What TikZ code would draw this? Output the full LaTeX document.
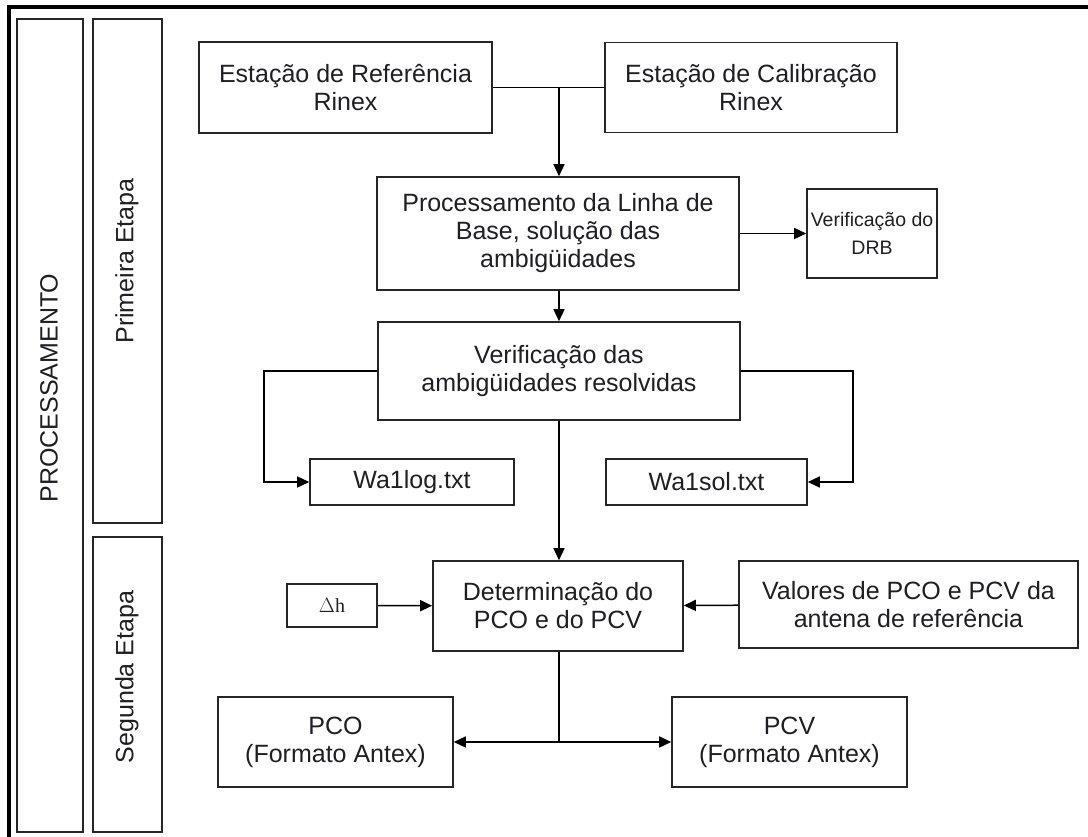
\documentclass[tikz,border=0pt]{standalone}
\usepackage{fontspec}
\setmainfont{Liberation Sans}
\newfontfamily\deltafont{Liberation Serif}
\usetikzlibrary{arrows.meta}
\pgfdeclarelayer{edgelayer}
\pgfdeclarelayer{nodelayer}
\pgfsetlayers{edgelayer,nodelayer,main}
\definecolor{boxgrey}{RGB}{38,38,38}
\definecolor{txtgrey}{RGB}{30,30,36}
\tikzstyle{none}=[inner sep=0pt]
\tikzstyle{stepbox}=[rectangle,draw=boxgrey,line width=1.6pt,align=center,inner sep=0pt,text=txtgrey,font=\fontsize{25}{28}\selectfont]
\tikzstyle{colbox}=[rectangle,draw=boxgrey,line width=1.6pt,inner sep=0pt]
\tikzstyle{sidelabel}=[rotate=90,inner sep=0pt,text=txtgrey,font=\fontsize{25}{28}\selectfont]
\tikzstyle{inarrow}=[-{Triangle[length=12pt,width=11pt]},line width=1.5pt]
\tikzstyle{link}=[-,line width=1.5pt]

\begin{document}
\begin{tikzpicture}[x=1pt,y=-1pt]
	\useasboundingbox (0,0) rectangle (1088,837);
	\draw [line width=4.3pt] (9,837) -- (9,7) -- (1088,7);
	\begin{pgfonlayer}{nodelayer}
		\node [style=colbox, minimum width=66pt, minimum height=813pt] (proccol) at (50, 425.5) {};
		\node [style=colbox, minimum width=69pt, minimum height=504pt] (firstcol) at (127.5, 271) {};
		\node [style=colbox, minimum width=69pt, minimum height=295pt] (secondcol) at (127.5, 684.5) {};
		\node [style=sidelabel] (proclabel) at (49, 388) {PROCESSAMENTO};
		\node [style=sidelabel] (firstlabel) at (127, 261) {Primeira Etapa};
		\node [style=sidelabel] (secondlabel) at (127, 677) {Segunda Etapa};
		\node [style=stepbox, minimum width=293pt, minimum height=91pt] (refst) at (345.5, 87.5) {Estação de Referência\\Rinex};
		\node [style=stepbox, minimum width=292pt, minimum height=90pt] (calst) at (751, 87.5) {Estação de Calibração\\Rinex};
		\node [style=stepbox, minimum width=362pt, minimum height=113pt] (baseline) at (558, 233.5) {Processamento da Linha de\\Base, solução das\\ambigüidades};
		\node [style=stepbox, minimum width=130pt, minimum height=89pt, font=\fontsize{19.5}{28}\selectfont] (drb) at (872, 233.5) {Verificação do\\DRB};
		\node [style=stepbox, minimum width=362pt, minimum height=98pt] (ambcheck) at (559, 371) {Verificação das\\ambigüidades resolvidas};
		\node [style=stepbox, minimum width=204pt, minimum height=46pt] (wlog) at (412, 482) {Wa1log.txt};
		\node [style=stepbox, minimum width=201pt, minimum height=46pt] (wsol) at (706.5, 482) {Wa1sol.txt};
		\node [style=stepbox, minimum width=250pt, minimum height=90pt] (determ) at (558, 606) {Determinação do\\PCO e do PCV};
		\node [style=stepbox, minimum width=90pt, minimum height=43pt, font=\deltafont\fontsize{20}{24}\selectfont] (dh) at (332, 605.5) {$\Delta$h};
		\node [style=stepbox, minimum width=339pt, minimum height=87pt] (refant) at (908.5, 604.5) {Valores de PCO e PCV da\\antena de referência};
		\node [style=stepbox, minimum width=235pt, minimum height=90pt] (pco) at (335.5, 742) {PCO\\(Formato Antex)};
		\node [style=stepbox, minimum width=235pt, minimum height=90pt] (pcv) at (789.5, 742) {PCV\\(Formato Antex)};
		\coordinate (join) at (559, 87.5);
		\coordinate (logbend) at (264, 371);
		\coordinate (solbend) at (853, 371);
		\coordinate (split) at (559, 742);
	\end{pgfonlayer}
	\begin{pgfonlayer}{edgelayer}
		\draw [style=link] (refst) -- (calst);
		\draw [style=inarrow] (join) -- (baseline.north -| join);
		\draw [style=inarrow] (baseline) -- (drb);
		\draw [style=inarrow] (baseline.south -| join) -- (ambcheck.north -| join);
		\draw [style=inarrow] (ambcheck.west) -- (logbend) |- (wlog.west);
		\draw [style=inarrow] (ambcheck.east) -- (solbend) |- (wsol.east);
		\draw [style=inarrow] (ambcheck.south -| join) -- (determ.north -| join);
		\draw [style=inarrow] (dh) -- (determ);
		\draw [style=inarrow] (refant) -- (determ);
		\draw [style=link] (determ.south -| split) -- (split);
		\draw [style=inarrow] (split) -- (pco.east);
		\draw [style=inarrow] (split) -- (pcv.west);
	\end{pgfonlayer}
\end{tikzpicture}
\end{document}
